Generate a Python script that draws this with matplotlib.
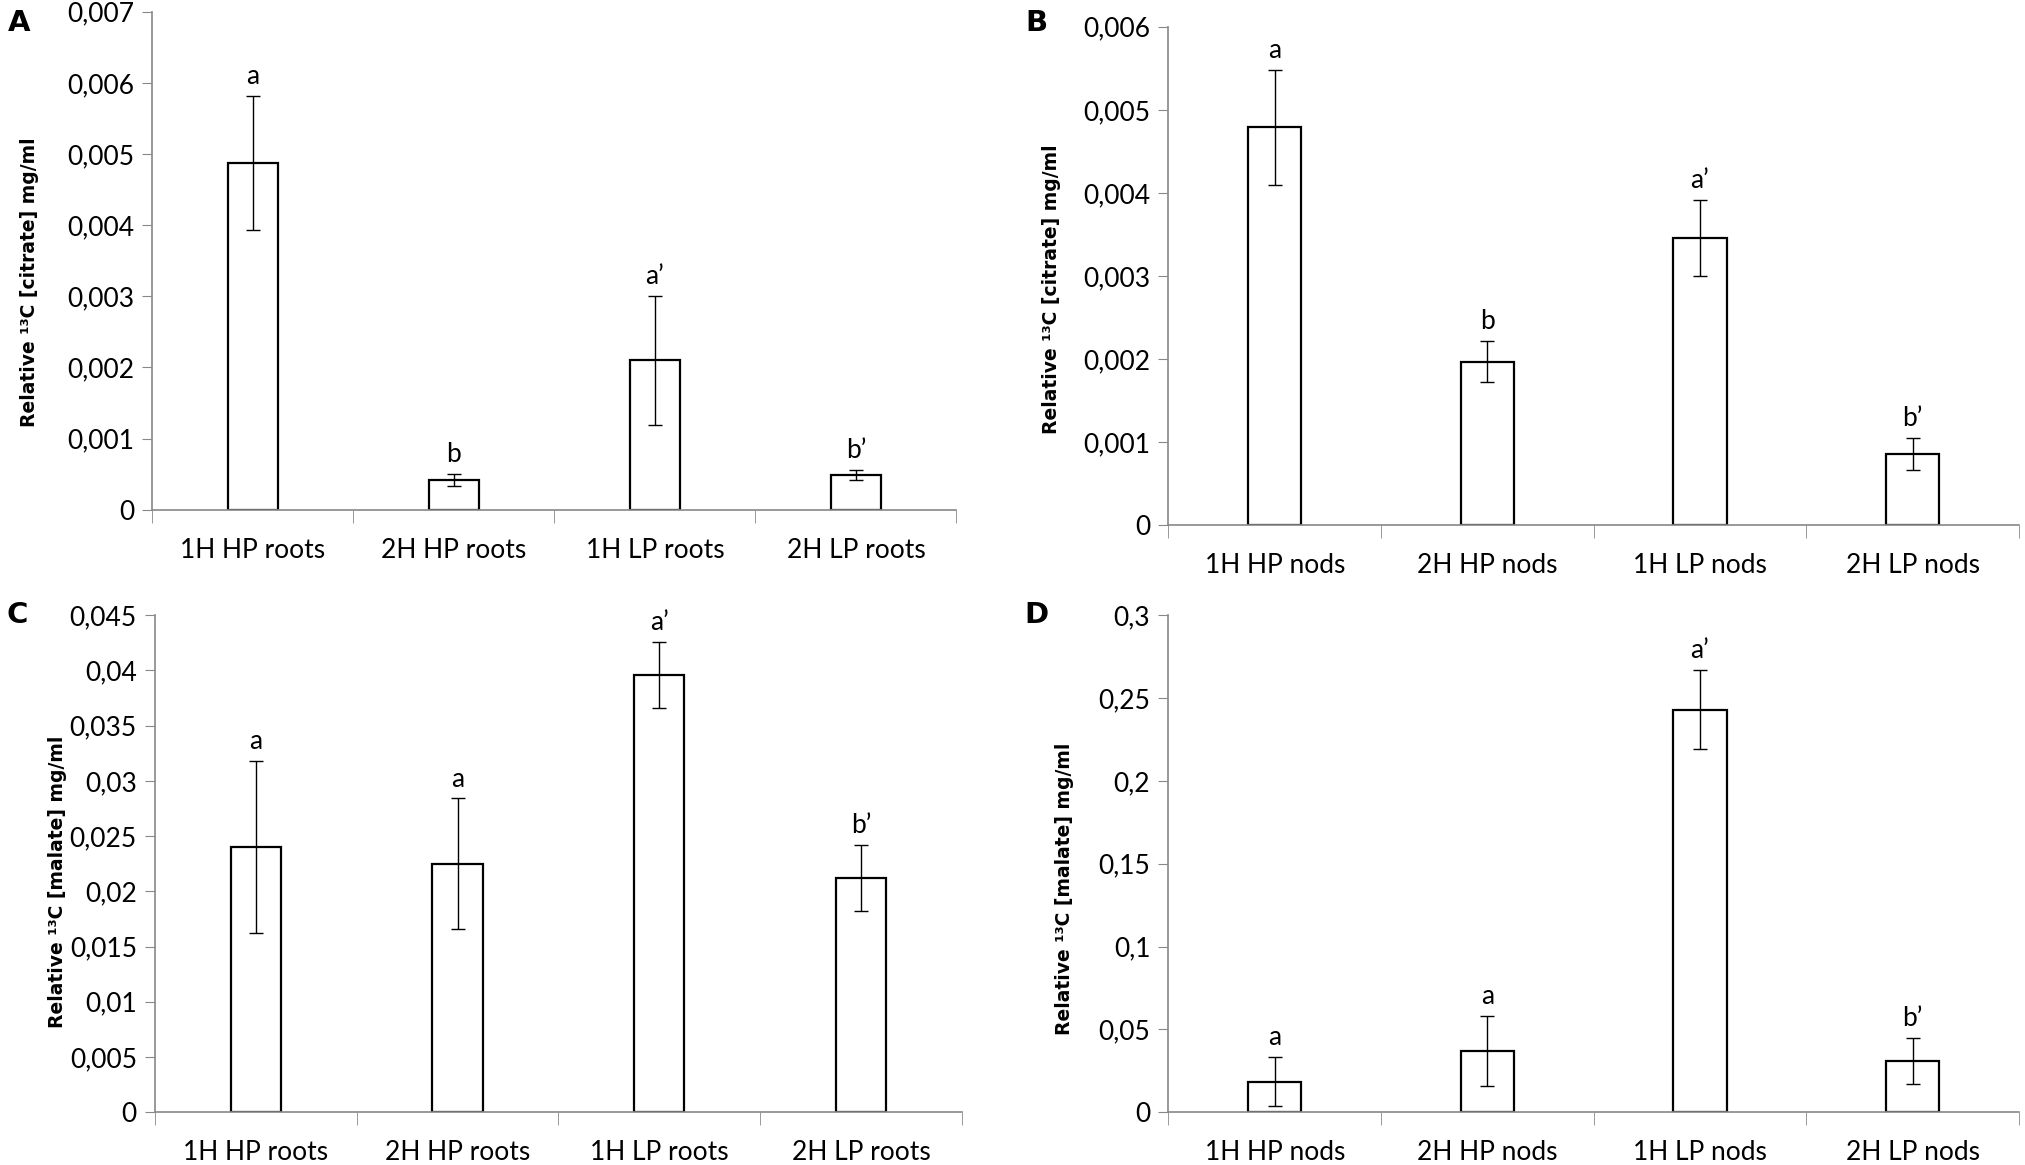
import matplotlib
matplotlib.use("Agg")
import matplotlib.pyplot as plt
import numpy as np

# categorias
roots = ["1H HP roots", "2H HP roots", "1H LP roots", "2H LP roots"]
nods = ["1H HP nods", "2H HP nods", "1H LP nods", "2H LP nods"]

# A - citrato raizes
cit_roots = [0.00487, 0.00042, 0.00210, 0.00049]
cit_roots_err = [0.00094, 0.00008, 0.00091, 0.00007]
cit_roots_let = ["a", "b", "a’", "b’"]

# B - citrato nodulos
cit_nods = [0.00479, 0.00197, 0.00346, 0.00086]
cit_nods_err = [0.00069, 0.00025, 0.00046, 0.00019]
cit_nods_let = ["a", "b", "a’", "b’"]

# C - malato raizes
mal_roots = [0.0240, 0.0225, 0.0396, 0.0212]
mal_roots_err = [0.0078, 0.0059, 0.0030, 0.0030]
mal_roots_let = ["a", "a", "a’", "b’"]

# D - malato nodulos
mal_nods = [0.0185, 0.0370, 0.243, 0.0310]
mal_nods_err = [0.0150, 0.0210, 0.024, 0.0140]
mal_nods_let = ["a", "a", "a’", "b’"]

yt_A = [0, 0.001, 0.002, 0.003, 0.004, 0.005, 0.006, 0.007]
yt_B = [0, 0.001, 0.002, 0.003, 0.004, 0.005, 0.006]
yt_C = [0, 0.005, 0.01, 0.015, 0.02, 0.025, 0.03, 0.035, 0.04, 0.045]
yt_D = [0, 0.05, 0.1, 0.15, 0.2, 0.25, 0.3]

TICKFONT = ["Lato", "DejaVu Sans"]
TS = 19


def fmt(v):
    if v == 0:
        return "0"
    s = ("%.3f" % v).rstrip("0")
    return s.replace(".", ",")


def painel(fig, rect, cats, vals, errs, letras, yticks, ylabel, letra_painel, lab_xy, let_pos):
    ax = fig.add_axes(rect)
    x = np.arange(len(cats))
    ax.bar(x, vals, width=0.25, color="white", edgecolor="black", linewidth=1.6, zorder=2)
    ax.errorbar(x, vals, yerr=errs, fmt="none", ecolor="black", elinewidth=1.0,
                capsize=5, capthick=1.0, zorder=3)
    for xi, v, e, l in zip(x, vals, errs, letras):
        ax.annotate(l, (xi, v + e), xytext=(0, 5), textcoords="offset points",
                    ha="center", va="bottom", fontsize=TS, family=TICKFONT)
    ax.set_xlim(-0.5, len(cats) - 0.5)
    ax.set_ylim(0, yticks[-1])
    ax.set_yticks(yticks)
    ax.set_yticklabels([fmt(t) for t in yticks], family=TICKFONT, fontsize=TS)
    ax.set_xticks(x)
    ax.set_xticklabels(cats, family=TICKFONT, fontsize=TS)
    ax.set_xticks(np.arange(-0.5, len(cats)), minor=True)
    ax.tick_params(axis="x", which="major", length=0, pad=20)
    ax.tick_params(axis="x", which="minor", length=9, color="#888888", direction="out")
    ax.tick_params(axis="y", length=7, color="#888888", direction="out", pad=6)
    for s in ["top", "right"]:
        ax.spines[s].set_visible(False)
    for s in ["left", "bottom"]:
        ax.spines[s].set_color("#888888")
        ax.spines[s].set_linewidth(1.2)
    ax.set_ylabel(ylabel, fontsize=13.5, fontweight="bold", family="DejaVu Sans")
    ax.yaxis.set_label_coords(*lab_xy)
    fig.text(let_pos[0], let_pos[1], letra_painel, fontsize=21,
             fontweight="bold", family="DejaVu Sans", ha="center", va="center")
    return ax


fig = plt.figure(figsize=(20.25, 11.65), dpi=100)

painel(fig, [0.0753, 0.5624, 0.397, 0.4276], roots, cit_roots, cit_roots_err, cit_roots_let,
       yt_A, "Relative ¹³C [citrate] mg/ml", "A", (-0.141, 0.457), (0.0096, 0.980))
painel(fig, [0.577, 0.549, 0.420, 0.428], nods, cit_nods, cit_nods_err, cit_nods_let,
       yt_B, "Relative ¹³C [citrate] mg/ml", "B", (-0.126, 0.473), (0.512, 0.980))
painel(fig, [0.0765, 0.0453, 0.3985, 0.4267], roots, mal_roots, mal_roots_err, mal_roots_let,
       yt_C, "Relative ¹³C [malate] mg/ml", "C", (-0.109, 0.464), (0.0083, 0.472))
painel(fig, [0.577, 0.0453, 0.420, 0.4267], nods, mal_nods, mal_nods_err, mal_nods_let,
       yt_D, "Relative ¹³C [malate] mg/ml", "D", (-0.111, 0.45), (0.512, 0.472))

plt.savefig("out.png", dpi=100)
